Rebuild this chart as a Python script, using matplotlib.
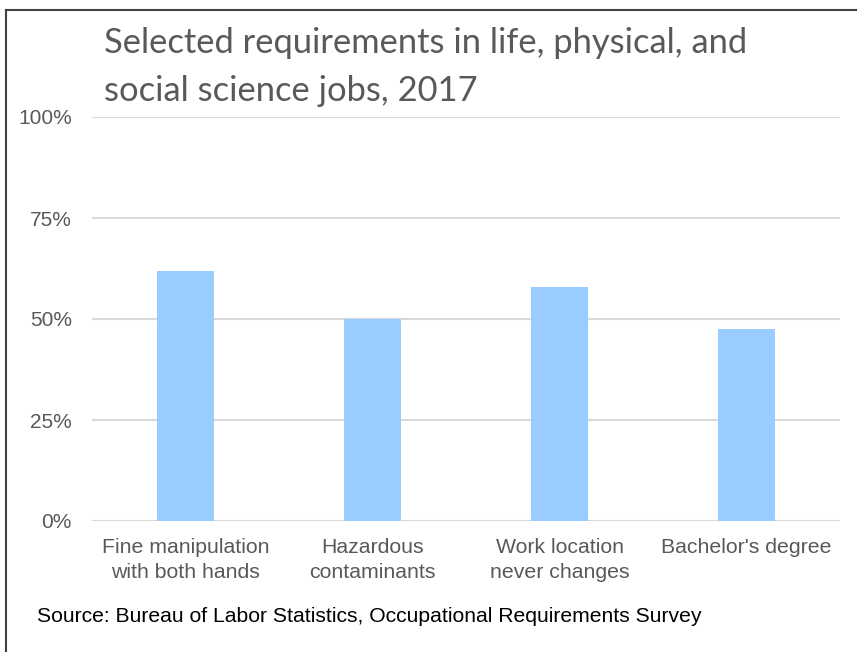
import matplotlib
matplotlib.use("Agg")
import matplotlib.pyplot as plt
from matplotlib.lines import Line2D
from matplotlib.ticker import FixedLocator

categories = ["Fine manipulation\nwith both hands", "Hazardous\ncontaminants",
              "Work location\nnever changes", "Bachelor's degree"]
values = [62, 50, 58, 47.5]
yticks = [0, 25, 50, 75, 100]
ytick_labels = ["0%", "25%", "50%", "75%", "100%"]
title = "Selected requirements in life, physical, and\nsocial science jobs, 2017"
source = "Source: Bureau of Labor Statistics, Occupational Requirements Survey"

W, H = 857, 652
fig = plt.figure(figsize=(W / 100, H / 100), dpi=100)
fig.patch.set_facecolor("white")

ax = fig.add_axes([92 / W, 1 - 521 / H, (840 - 92) / W, (521 - 117) / H])
x = list(range(len(categories)))
ax.bar(x, values, width=0.31, color="#99CCFF", zorder=3)
ax.set_xlim(-0.5, len(categories) - 0.5)
ax.set_ylim(0, 100)
ax.yaxis.set_major_locator(FixedLocator(yticks))
ax.set_yticklabels(ytick_labels)
ax.set_xticks(x)
ax.set_xticklabels(categories)
ax.grid(axis="y", color="#D9D9D9", linewidth=1.5, zorder=0)
ax.set_axisbelow(True)
for s in ax.spines.values():
    s.set_visible(False)
ax.tick_params(axis="y", length=0, pad=14.4, labelsize=15, labelcolor="#595959")
ax.tick_params(axis="x", length=0, pad=12, labelsize=15.3, labelcolor="#595959")
for lab in ax.get_xticklabels() + ax.get_yticklabels():
    lab.set_fontfamily("Liberation Sans")
for lab in ax.get_xticklabels():
    lab.set_linespacing(1.4)

fig.text(104 / W, 1 - 101 / H, title, fontfamily="Lato", fontsize=24.8,
         color="#595959", ha="left", va="baseline", linespacing=1.6)
fig.text(37 / W, 1 - 622 / H, source, fontfamily="Liberation Sans", fontsize=15.2,
         color="black", ha="left", va="baseline")

# outer frame (top and left edges)
fig.add_artist(Line2D([6 / W, 1.01], [1 - 10 / H, 1 - 10 / H], color="#404040",
                      linewidth=1.5, transform=fig.transFigure))
fig.add_artist(Line2D([6 / W, 6 / W], [1 - 10 / H, -0.01], color="#404040",
                      linewidth=1.5, transform=fig.transFigure))

fig.savefig("out.png", dpi=100)
